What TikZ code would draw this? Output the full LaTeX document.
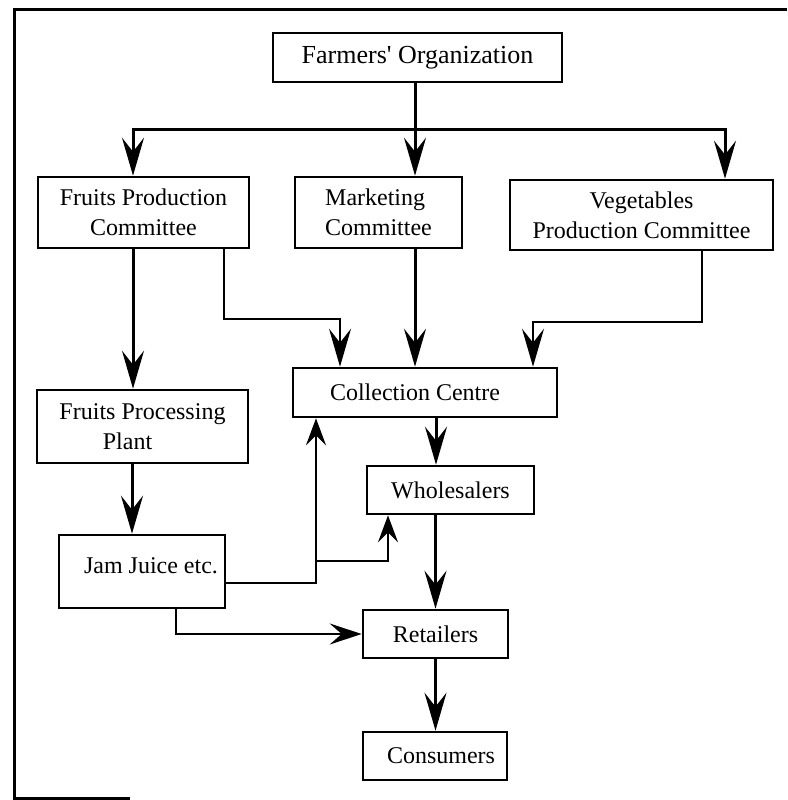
\documentclass[tikz,border=0pt]{standalone}
\usepackage{fontspec}
\setmainfont{Liberation Serif}
\usepackage{tikz}
\usetikzlibrary{arrows.meta, positioning}

\tikzset{
    box/.style={draw, line width=2.6pt, inner sep=0pt, align=center, font=\fontsize{24}{30}\selectfont},
    conn/.style={line width=3pt},
    thinconn/.style={line width=2.2pt},
    arr/.style={-{Stealth[length=38pt, width=22pt, inset=14pt]}},
    arrsmall/.style={-{Stealth[length=27pt, width=20pt, inset=10pt]}},
    arrside/.style={-{Stealth[length=32pt, width=21pt, inset=12pt]}},
}

\begin{document}
\begin{tikzpicture}[x=1pt, y=-1pt]
    \useasboundingbox (0,0) rectangle (787,800);
    % outer frame
    \draw[line width=3pt] (787,10) -- (14,10) -- (14,798) -- (130,798);

    % boxes
    \node[box, minimum width=289pt, minimum height=49pt, font=\fontsize{26}{30}\selectfont] (farm) at (417.5,57.5) {Farmers\textquotesingle{} Organization};
    \node[box, minimum width=211pt, minimum height=71pt] (fpc) at (143.5,212.5) {Fruits Production\\Committee};
    \node[box, minimum width=167pt, minimum height=71pt, align=left] (mkt) at (378.5,212.5) {Marketing\\Committee};
    \node[box, minimum width=263pt, minimum height=70pt] (veg) at (641.5,215) {Vegetables\\Production Committee};
    \node[box, minimum width=264pt, minimum height=49pt] (coll) at (425,392.5) {\hspace*{-20pt}Collection Centre};
    \node[box, minimum width=211pt, minimum height=73pt] (fpp) at (142.5,426.5) {Fruits Processing\\\hspace*{-30pt}Plant};
    \node[box, minimum width=166pt, minimum height=73pt, text height=20pt, text depth=16pt] (jam) at (142,571.5) {\hspace*{18pt}Jam Juice etc.};
    \node[box, minimum width=167pt, minimum height=48pt] (whole) at (450.5,490) {Wholesalers};
    \node[box, minimum width=145pt, minimum height=48pt] (ret) at (435.5,634) {Retailers};
    \node[box, minimum width=144pt, minimum height=48pt] (cons) at (435,756) {\hspace*{12pt}Consumers};

    % bends
    \coordinate (split) at (415,129);
    \coordinate (k1) at (340,319);
    \coordinate (k2) at (533,322);
    \coordinate (k3) at (316,583);
    \coordinate (k4) at (316,561);
    \coordinate (k5) at (388,561);

    % from the organization
    \draw[conn] (split |- farm.south) -- (split);
    \draw[conn, arr] (split) -| ([xshift=-10.5pt]fpc.north);
    \draw[conn, arr] (split) -- (split |- mkt.north);
    \draw[conn, arr] (split) -| ([xshift=83.5pt]veg.north);

    % to the collection centre
    \draw[thinconn, arr] ([xshift=80.5pt]fpc.south) |- (k1) -- (k1 |- coll.north);
    \draw[conn, arr] (split |- mkt.south) -- (split |- coll.north);
    \draw[thinconn, arr] ([xshift=60.5pt]veg.south) |- (k2) -- (k2 |- coll.north);

    % fruits chain
    \draw[conn, arr] ([xshift=-10.5pt]fpc.south) -- ([xshift=-10.5pt]fpc.south |- fpp.north);
    \draw[conn, arr] ([xshift=-10.5pt]fpp.south) -- ([xshift=-10.5pt]fpp.south |- jam.north);
    \draw[thinconn, arrsmall] ([yshift=-11.5pt]jam.east) -- (k3) -- (k3 |- coll.south);
    \draw[thinconn, arrsmall] (k4) -- (k5) -- (k5 |- whole.south);
    \draw[thinconn, arrside] ([xshift=34pt]jam.south) |- (ret.west);

    % market chain
    \draw[conn, arr] ([xshift=11pt]coll.south) -- ([xshift=11pt]coll.south |- whole.north);
    \draw[conn, arr] (ret.north |- whole.south) -- (ret.north);
    \draw[conn, arr] (ret.south) -- (ret.south |- cons.north);
\end{tikzpicture}
\end{document}
